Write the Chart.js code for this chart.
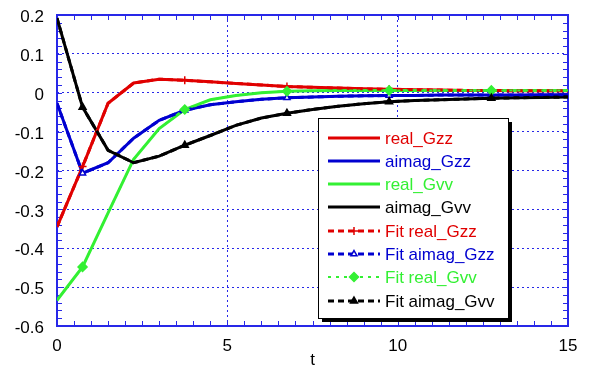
<!DOCTYPE html>
<html>
<head>
<meta charset="utf-8">
<script src="https://cdn.jsdelivr.net/npm/chart.js@4"></script>
<style>
html,body{margin:0;padding:0;background:#fff;}
#wrap{width:590px;height:367px;}
</style>
</head>
<body>
<div id="wrap"><canvas id="c" width="590" height="367"></canvas></div>
<script>
const tValues = [0,0.75,1.5,2.25,3,3.75,4.5,5.25,6,6.75,7.5,8.25,9,9.75,10.5,11.25,12,12.75,13.5,14.25,15];
const realGzz  = [-0.345,-0.19,-0.027,0.025,0.035,0.032,0.028,0.024,0.02,0.016,0.014,0.012,0.01,0.009,0.008,0.007,0.006,0.006,0.005,0.005,0.005];
const aimagGzz = [-0.027,-0.207,-0.18,-0.117,-0.071,-0.045,-0.031,-0.023,-0.017,-0.013,-0.011,-0.009,-0.008,-0.007,-0.007,-0.006,-0.006,-0.006,-0.006,-0.005,-0.005];
const realGvv  = [-0.534,-0.448,-0.309,-0.171,-0.092,-0.043,-0.018,-0.007,0,0.004,0.005,0.006,0.006,0.006,0.006,0.006,0.006,0.006,0.006,0.006,0.006];
const aimagGvv = [0.192,-0.037,-0.148,-0.18,-0.163,-0.135,-0.11,-0.084,-0.065,-0.053,-0.043,-0.035,-0.028,-0.023,-0.02,-0.018,-0.016,-0.014,-0.013,-0.012,-0.011];
const fitRealGzz  = [-0.345,-0.19,-0.027,0.025,0.035,0.032,0.028,0.024,0.02,0.016,0.014,0.012,0.01,0.009,0.008,0.007,0.006,0.006,0.005,0.005,0.005];
const fitAimagGzz = [-0.027,-0.207,-0.18,-0.117,-0.071,-0.045,-0.031,-0.023,-0.017,-0.013,-0.011,-0.009,-0.008,-0.007,-0.007,-0.006,-0.006,-0.006,-0.006,-0.005,-0.005];
const fitRealGvv  = [-0.534,-0.448,-0.309,-0.171,-0.092,-0.043,-0.018,-0.007,0,0.004,0.005,0.006,0.006,0.006,0.006,0.006,0.006,0.006,0.006,0.006,0.006];
const fitAimagGvv = [0.192,-0.037,-0.148,-0.18,-0.163,-0.135,-0.11,-0.084,-0.065,-0.053,-0.043,-0.035,-0.028,-0.023,-0.02,-0.018,-0.016,-0.014,-0.013,-0.012,-0.011];
const seriesNames = ['real_Gzz','aimag_Gzz','real_Gvv','aimag_Gvv','Fit real_Gzz','Fit aimag_Gzz','Fit real_Gvv','Fit aimag_Gvv'];
const xTicks = [0,5,10,15];
const xTickLabels = ['0','5','10','15'];
const yTicks = [-0.6,-0.5,-0.4,-0.3,-0.2,-0.1,0,0.1,0.2];
const yTickLabels = ['-0.6','-0.5','-0.4','-0.3','-0.2','-0.1','0','0.1','0.2'];
const xTitle = 't';

const RED = '#e00000', BLUE = '#0000d0', GREEN = '#33f033', BLACK = '#000000';
const GRID = '#2828e8';
const FONT = '"Liberation Sans", Arial, sans-serif';

function pts(arr){ return tValues.map((t,i)=>({x:t,y:arr[i]})); }
const markerEvery = ctx => (ctx.dataIndex % 4 === 1 ? 1 : 0);

const styles = [
  {data:realGzz, color:RED, width:3},
  {data:aimagGzz, color:BLUE, width:3},
  {data:realGvv, color:GREEN, width:3},
  {data:aimagGvv, color:BLACK, width:3},
  {data:fitRealGzz, color:RED, width:3, dash:[6,4], ps:'cross', pr:4, bg:RED},
  {data:fitAimagGzz, color:BLUE, width:3, dash:[6,4], ps:'triangle', pr:3.5, bg:'#ffffff'},
  {data:fitRealGvv, color:GREEN, width:2, dash:[3,5], ps:'rectRot', pr:4.5, bg:GREEN},
  {data:fitAimagGvv, color:BLACK, width:3, dash:[6,4], ps:'triangle', pr:4, bg:BLACK}
];

const datasets = styles.map((s,i)=>({
  label: seriesNames[i],
  data: pts(s.data),
  borderColor: s.color,
  backgroundColor: s.bg || s.color,
  borderWidth: s.width,
  borderDash: s.dash || [],
  pointStyle: s.ps || 'circle',
  pointRadius: s.ps ? (ctx => markerEvery(ctx) * s.pr) : 0,
  pointBorderColor: s.color,
  pointBackgroundColor: s.bg || s.color,
  pointBorderWidth: 1.5,
  pointHoverRadius: 0,
  tension: 0,
  fill: false,
  order: 10 - i
}));

const frame = {
  id: 'frame',
  beforeDatasetsDraw(chart){
    const {ctx, chartArea:a, scales:{x, y}} = chart;
    ctx.save();
    ctx.strokeStyle = GRID;
    ctx.lineWidth = 1;
    ctx.beginPath();
    for (let v = 0; v <= 15.001; v += 0.5) {
      const px = Math.round(x.getPixelForValue(v)) + 0.5;
      ctx.moveTo(px, a.bottom); ctx.lineTo(px, a.bottom - 5);
      ctx.moveTo(px, a.top); ctx.lineTo(px, a.top + 5);
    }
    for (let k = 0; k <= 40; k++) {
      const v = -0.6 + k * 0.02;
      const py = Math.round(y.getPixelForValue(v)) + 0.5;
      ctx.moveTo(a.left, py); ctx.lineTo(a.left + 5, py);
      ctx.moveTo(a.right, py); ctx.lineTo(a.right - 5, py);
    }
    ctx.stroke();
    ctx.lineWidth = 2;
    ctx.strokeRect(a.left, a.top, a.right - a.left, a.bottom - a.top);
    ctx.restore();
  }
};

const legendBox = {
  id: 'legendBox',
  afterDatasetsDraw(chart){
    const {ctx} = chart;
    const bx = 318, by = 118, bw = 190, bh = 200;
    ctx.save();
    ctx.fillStyle = '#000';
    ctx.fillRect(bx + 4, by + 4, bw, bh);
    ctx.fillStyle = '#fff';
    ctx.fillRect(bx, by, bw, bh);
    ctx.strokeStyle = '#000';
    ctx.lineWidth = 1;
    ctx.strokeRect(bx + 0.5, by + 0.5, bw, bh);
    ctx.font = '17px ' + FONT;
    ctx.textBaseline = 'middle';
    ctx.textAlign = 'left';
    styles.forEach((s, i) => {
      const yy = Math.round(137.5 + i * 23.3);
      ctx.strokeStyle = s.color;
      ctx.lineWidth = s.width;
      ctx.setLineDash(s.dash || []);
      ctx.beginPath();
      ctx.moveTo(328, yy); ctx.lineTo(380, yy);
      ctx.stroke();
      ctx.setLineDash([]);
      if (s.ps) {
        ctx.fillStyle = s.bg; ctx.strokeStyle = s.color; ctx.lineWidth = 1.5;
        Chart.helpers.drawPoint(ctx, {pointStyle: s.ps, radius: s.pr, rotation: 0, borderWidth: 1.5}, 354, yy);
      }
      ctx.fillStyle = s.color;
      ctx.fillText(seriesNames[i], 385, yy + 1);
    });
    ctx.restore();
  }
};

new Chart(document.getElementById('c'), {
  type: 'line',
  data: {datasets},
  plugins: [frame, legendBox],
  options: {
    responsive: false,
    animation: false,
    events: [],
    layout: {padding: {left: 0, right: 22, top: 15, bottom: 0}},
    plugins: {legend: {display: false}, tooltip: {enabled: false}},
    scales: {
      x: {
        type: 'linear', min: 0, max: 15,
        afterBuildTicks: s => { s.ticks = xTicks.map(v => ({value: v})); },
        afterFit: s => { s.height = 41; s.paddingLeft = 0; s.paddingRight = 0; },
        ticks: {
          font: {family: FONT, size: 17}, color: '#000', padding: 10,
          callback: (v) => xTickLabels[xTicks.indexOf(v)], maxRotation: 0, autoSkip: false
        },
        grid: {color: GRID, lineWidth: 1, drawTicks: false},
        border: {display: false, dash: [2, 3]},
        title: {display: true, text: xTitle, font: {family: FONT, size: 17}, color: '#000', padding: {top: 0, bottom: -4}}
      },
      y: {
        type: 'linear', min: -0.6, max: 0.2,
        afterBuildTicks: s => { s.ticks = yTicks.map(v => ({value: v})); },
        afterFit: s => { s.width = 57; s.paddingTop = 0; s.paddingBottom = 0; },
        ticks: {
          font: {family: FONT, size: 17}, color: '#000', padding: 13, labelOffset: 2.5,
          callback: (v) => { const k = yTicks.findIndex(t => Math.abs(t - v) < 1e-9); return k >= 0 ? yTickLabels[k] : ''; },
          autoSkip: false
        },
        grid: {color: GRID, lineWidth: 1, drawTicks: false},
        border: {display: false, dash: [2, 3]}
      }
    }
  }
});
</script>
</body>
</html>
